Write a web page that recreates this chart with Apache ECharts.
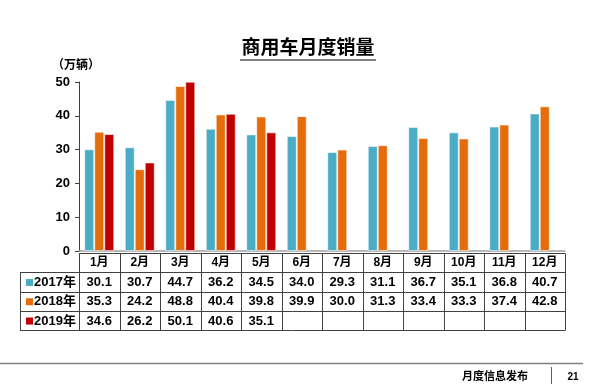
<!DOCTYPE html>
<html><head><meta charset="utf-8">
<script src="https://cdn.jsdelivr.net/npm/echarts@6/dist/echarts.min.js"></script>
<style>html,body{margin:0;padding:0;background:#fff}#c{width:600px;height:384px}</style>
</head><body><div id="c"></div>
<script>
var months = ['1月','2月','3月','4月','5月','6月','7月','8月','9月','10月','11月','12月'];
var seriesNames = ['2017年','2018年','2019年'];
var s2017 = [30.1,30.7,44.7,36.2,34.5,34.0,29.3,31.1,36.7,35.1,36.8,40.7];
var s2018 = [35.3,24.2,48.8,40.4,39.8,39.9,30.0,31.3,33.4,33.3,37.4,42.8];
var s2019 = [34.6,26.2,50.1,40.6,35.1,null,null,null,null,null,null,null];
var yTicks = [0,10,20,30,40,50];
var colors = ['#4BACC6','#E46C0A','#C00000'];

var FONT = '"Liberation Sans","Noto Sans CJK SC",sans-serif';
var gl = 79, gr = 35, gt = 82, axisY = 251;
var plotW = 600 - gl - gr;
var colW = plotW / months.length;
var tTop = 253, rowH = 19.3, legL = 20;
var allData = [s2017, s2018, s2019];

var g = [];
// title
g.push({type:'text', x:308, y:49, style:{text:'商用车月度销量', font:'bold 19px '+FONT, fill:'#000', textAlign:'center', textVerticalAlign:'middle'}});
g.push({type:'line', shape:{x1:240,y1:60,x2:376,y2:60}, style:{stroke:'#000', lineWidth:1.2}});
g.push({type:'text', x:52, y:66, style:{text:'（万辆）', font:'bold 12px '+FONT, fill:'#000', textVerticalAlign:'middle'}});
// table lines
var lineStyle = {stroke:'#404040', lineWidth:1};
var nRows = 4;
for (var r = 0; r <= nRows; r++) {
  var y = Math.round(tTop + r*rowH) + 0.5;
  var x1 = r === 0 ? gl : legL;
  g.push({type:'line', shape:{x1:x1, y1:y, x2:gl+plotW, y2:y}, style:lineStyle});
}
var yBot = Math.round(tTop + nRows*rowH) + 0.5;
g.push({type:'line', shape:{x1:legL+0.5, y1:Math.round(tTop+rowH)+0.5, x2:legL+0.5, y2:yBot}, style:lineStyle});
for (var i = 0; i <= months.length; i++) {
  var x = Math.round(gl + i*colW) + 0.5;
  g.push({type:'line', shape:{x1:x, y1:tTop+0.5, x2:x, y2:yBot}, style:lineStyle});
}
// header
months.forEach(function(m, i){
  g.push({type:'text', x: gl + (i+0.5)*colW, y: tTop + rowH/2 + 0.5, style:{text:m, font:'bold 12px '+FONT, fill:'#000', textAlign:'center', textVerticalAlign:'middle'}});
});
// rows
seriesNames.forEach(function(name, si){
  var cy = tTop + (si+1.5)*rowH + 0.5;
  g.push({type:'rect', shape:{x:26, y:cy-3.5, width:7, height:7}, style:{fill:colors[si]}});
  g.push({type:'text', x:34, y:cy, style:{text:name, font:'bold 13px '+FONT, fill:'#000', textVerticalAlign:'middle'}});
  allData[si].forEach(function(v, i){
    if (v == null) return;
    g.push({type:'text', x: gl + (i+0.5)*colW, y: cy, style:{text:v.toFixed(1), font:'bold 13px '+FONT, fill:'#000', textAlign:'center', textVerticalAlign:'middle'}});
  });
});
// footer
g.push({type:'line', shape:{x1:0, y1:363.5, x2:583, y2:363.5}, style:{stroke:'#808080', lineWidth:1.5}});
g.push({type:'line', shape:{x1:551.5, y1:367, x2:551.5, y2:384}, style:{stroke:'#606060', lineWidth:1}});
g.push({type:'text', x:495, y:377, style:{text:'月度信息发布', font:'bold 11px '+FONT, fill:'#000', textAlign:'center', textVerticalAlign:'middle'}});
g.push({type:'text', x:573, y:377, style:{text:'21', font:'bold 10px '+FONT, fill:'#000', textAlign:'center', textVerticalAlign:'middle'}});

var chart = echarts.init(document.getElementById('c'), null, {renderer:'canvas'});
chart.setOption({
  animation:false,
  grid:{left:gl, right:gr, top:gt, bottom:384-axisY},
  xAxis:{type:'category', data:months, axisLine:{lineStyle:{color:'#A0A0A0', width:1.5}}, axisTick:{show:false}, axisLabel:{show:false}},
  yAxis:{type:'value', min:yTicks[0], max:yTicks[yTicks.length-1], interval:10,
    splitLine:{show:false},
    axisLine:{show:true, lineStyle:{color:'#404040'}},
    axisTick:{show:true, length:4, lineStyle:{color:'#404040'}},
    axisLabel:{margin:9, fontFamily:FONT, fontWeight:'bold', fontSize:13, color:'#000'}},
  series: seriesNames.map(function(n, si){
    return {type:'bar', name:n, data:allData[si], barWidth:10, barGap:'0%',
      itemStyle:{color:colors[si], borderColor:'rgba(255,255,255,0.55)', borderWidth:1}};
  }),
  graphic: g
});
</script></body></html>
